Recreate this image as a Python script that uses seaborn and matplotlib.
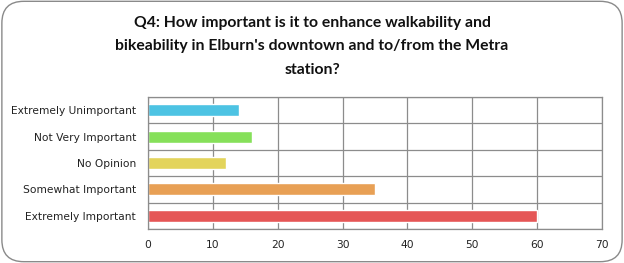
import matplotlib
matplotlib.use("Agg")
import matplotlib.pyplot as plt
import seaborn as sns
import pandas as pd
from matplotlib.patches import FancyBboxPatch

categories = ["Extremely Unimportant", "Not Very Important", "No Opinion",
              "Somewhat Important", "Extremely Important"]
values = [14, 16, 12, 35, 60]
colors = ["#4DC3E3", "#86E05A", "#E3D45B", "#E8A055", "#E55656"]
xticks = [0, 10, 20, 30, 40, 50, 60, 70]
title = "Q4: How important is it to enhance walkability and\nbikeability in Elburn's downtown and to/from the Metra\nstation?"

sns.set_theme(style="white")
plt.rcParams['font.family'] = ['DejaVu Sans']

df = pd.DataFrame({"cat": categories, "val": values})

fig = plt.figure(figsize=(6.24, 2.63), dpi=100)
fig.patch.set_facecolor("white")
border = FancyBboxPatch((0.003, 0.005), 0.994, 0.99, boxstyle="round,pad=0,rounding_size=0.035",
                        transform=fig.transFigure, facecolor="none", edgecolor="#8a8a8a",
                        linewidth=1.0, mutation_aspect=624/263, zorder=5)
fig.patches.append(border)

ax = fig.add_axes([148/624, (263-229)/263, (602-148)/624, (229-97)/263])
sns.barplot(data=df, y="cat", x="val", hue="cat", palette=colors, order=categories,
            width=0.45, legend=False, ax=ax, saturation=1)
ax.set_xlim(0, 70)
ax.set_xticks(xticks)
ax.set_xticklabels([str(t) for t in xticks])
ax.set_ylim(4.5, -0.5)
ax.set_yticks([i + 0.5 for i in range(-1, 5)], minor=True)
ax.grid(False)
ax.xaxis.grid(True, color="#8c8c8c", linewidth=0.9)
ax.yaxis.grid(True, which="minor", color="#8c8c8c", linewidth=0.9)
ax.set_axisbelow(True)
for s in ax.spines.values():
    s.set_color("#8c8c8c")
    s.set_linewidth(0.9)
ax.set_xlabel("")
ax.set_ylabel("")
ax.tick_params(axis="both", which="both", length=0, labelsize=7.7, colors="#222222")
ax.tick_params(axis="x", pad=8)
ax.tick_params(axis="y", pad=8.5)

fig.text(0.5, 0.94, title, ha="center", va="top", fontsize=11.3, fontweight="bold",
         family=["Lato", "DejaVu Sans"], linespacing=1.88, color="#111111")

fig.savefig("out.png", dpi=100)
